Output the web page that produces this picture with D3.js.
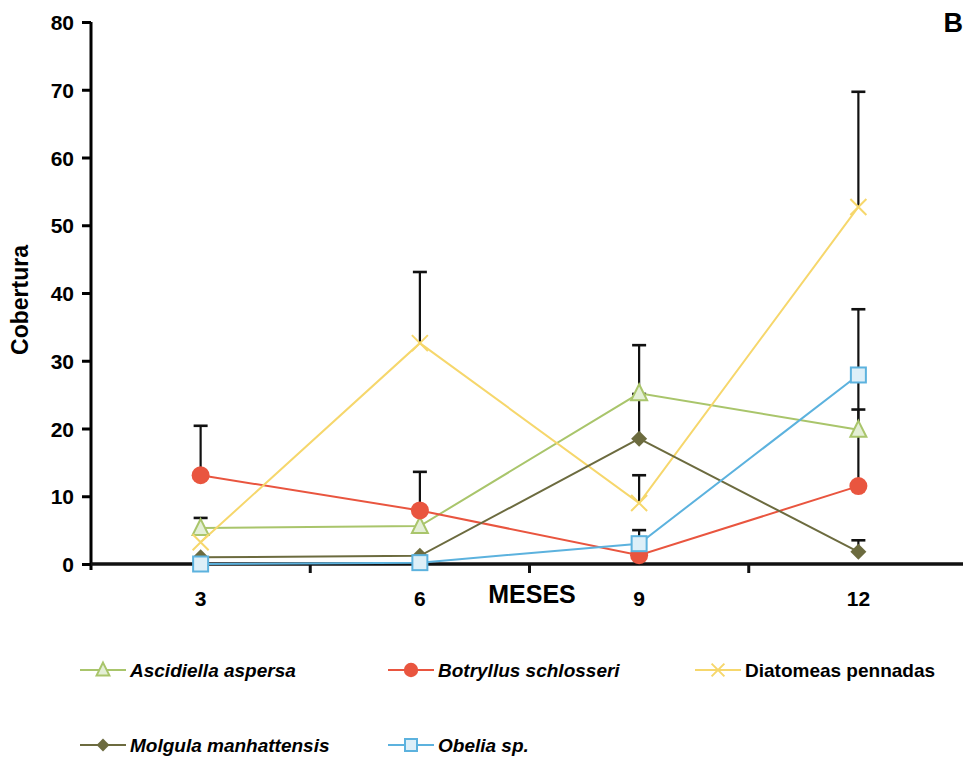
<!DOCTYPE html>
<html>
<head>
<meta charset="utf-8">
<script src="https://cdn.jsdelivr.net/npm/d3@7"></script>
<style>
  body { margin: 0; background: #fff; }
  svg { display: block; font-family: "Liberation Sans", Arial, sans-serif; }
</style>
</head>
<body>
<div id="chart"></div>
<script>
// months (categories)
var meses = ["3", "6", "9", "12"];
var yTicks = [0, 10, 20, 30, 40, 50, 60, 70, 80];

// mean cover per series
var ascidiella = [5.3, 5.6, 25.2, 19.8];
var botryllus = [13.1, 7.9, 1.3, 11.5];
var diatomeas = [3.2, 32.6, 9.0, 52.7];
var molgula = [1.0, 1.2, 18.5, 1.8];
var obelia = [0.0, 0.2, 3.0, 27.9];

// upper error (SD)
var ascidiellaErr = [1.5, 0, 7.1, 7.2];
var botryllusErr = [7.3, 5.7, 0, 11.3];
var diatomeasErr = [0, 10.5, 4.1, 17.0];
var molgulaErr = [0, 0, 6.6, 1.7];
var obeliaErr = [0, 0, 2.0, 9.7];

var series = [
    {name: "Ascidiella aspersa", italic: true, values: ascidiella, err: ascidiellaErr, color: "#a9c56b", fill: "#e4efd6", marker: "triangle"},
    {name: "Botryllus schlosseri", italic: true, values: botryllus, err: botryllusErr, color: "#e9553f", fill: "#e9553f", marker: "circle"},
    {name: "Diatomeas pennadas", italic: false, values: diatomeas, err: diatomeasErr, color: "#f6d76c", fill: "none", marker: "cross"},
    {name: "Molgula manhattensis", italic: true, values: molgula, err: molgulaErr, color: "#6c6b3f", fill: "#6c6b3f", marker: "diamond"},
    {name: "Obelia sp.", italic: true, values: obelia, err: obeliaErr, color: "#5cb2de", fill: "#ddeff8", marker: "square"}
];

var w = 963, h = 757;
var svg = d3.select("#chart").append("svg").attr("width", w).attr("height", h);

var xScale = d3.scaleBand().domain(meses).range([91, 968]).padding(0);
var yScale = d3.scaleLinear().domain([0, 80]).range([564, 22]);
function cx(i) { return xScale(meses[i]) + xScale.bandwidth() / 2; }

//y axis
var yAxis = d3.axisLeft(yScale).tickValues(yTicks).tickSize(9).tickPadding(8).tickFormat(d3.format("d"));
var gy = svg.append("g").attr("transform", "translate(91,0)").call(yAxis);
gy.select(".domain").attr("stroke-width", 3).attr("d", "M0,22V570");
gy.selectAll(".tick line").attr("stroke-width", 3);
gy.selectAll(".tick text").style("font-size", "21px").style("font-weight", "bold").attr("dy", "0.36em");

//x axis: labels at centers, tick marks at band edges
var xAxis = d3.axisBottom(xScale).tickSize(0).tickPadding(27);
var gx = svg.append("g").attr("transform", "translate(0,564)").call(xAxis);
gx.select(".domain").remove();
gx.selectAll(".tick text").style("font-size", "21px").style("font-weight", "bold");
svg.append("line").attr("x1", 91).attr("x2", 963).attr("y1", 564).attr("y2", 564)
    .attr("stroke", "#111").attr("stroke-width", 3.5);
svg.selectAll(".xtick").data(meses.slice(1)).enter().append("line")
    .attr("class", "xtick")
    .attr("x1", function (d) { return xScale(d); })
    .attr("x2", function (d) { return xScale(d); })
    .attr("y1", 564).attr("y2", 573)
    .attr("stroke", "#111").attr("stroke-width", 3);

svg.append("text").attr("x", 532).attr("y", 603).attr("text-anchor", "middle")
    .style("font-size", "25px").style("font-weight", "bold").text("MESES");

svg.append("text").attr("transform", "translate(28,300) rotate(-90)").attr("text-anchor", "middle")
    .style("font-size", "23px").style("font-weight", "bold").text("Cobertura");

svg.append("text").attr("x", 963).attr("y", 32).attr("text-anchor", "end")
    .style("font-size", "27px").style("font-weight", "bold").text("B");

//error bars (behind)
series.forEach(function (s) {
    s.values.forEach(function (v, i) {
        if (!s.err[i]) return;
        var y0 = yScale(v), y1 = yScale(v + s.err[i]), x = cx(i);
        svg.append("line").attr("x1", x).attr("x2", x).attr("y1", y0).attr("y2", y1)
            .attr("stroke", "#111").attr("stroke-width", 2.2);
        svg.append("line").attr("x1", x - 7).attr("x2", x + 7).attr("y1", y1).attr("y2", y1)
            .attr("stroke", "#111").attr("stroke-width", 2.6);
    });
});

var line = d3.line().x(function (d, i) { return cx(i); }).y(function (d) { return yScale(d); });

function drawMarker(g, type, x, y, s, scale) {
    var k = scale || 1;
    if (type === "circle") {
        g.append("circle").attr("cx", x).attr("cy", y).attr("r", 9 * k).attr("fill", s.fill);
    } else if (type === "triangle") {
        var a = 8 * k;
        g.append("path").attr("d", "M" + x + "," + (y - a - 1) + "L" + (x + a) + "," + (y + a - 1) + "L" + (x - a) + "," + (y + a - 1) + "Z")
            .attr("fill", s.fill).attr("stroke", s.color).attr("stroke-width", 2);
    } else if (type === "square") {
        var b = 7.5 * k;
        g.append("rect").attr("x", x - b).attr("y", y - b).attr("width", 2 * b).attr("height", 2 * b)
            .attr("fill", s.fill).attr("stroke", s.color).attr("stroke-width", 2);
    } else if (type === "diamond") {
        var c = 8 * k;
        g.append("path").attr("d", "M" + x + "," + (y - c) + "L" + (x + c) + "," + y + "L" + x + "," + (y + c) + "L" + (x - c) + "," + y + "Z")
            .attr("fill", s.fill);
    } else if (type === "cross") {
        var e = 8 * k;
        g.append("path").attr("d", "M" + (x - e) + "," + (y - e) + "L" + (x + e) + "," + (y + e) + "M" + (x + e) + "," + (y - e) + "L" + (x - e) + "," + (y + e))
            .attr("stroke", s.color).attr("stroke-width", 2).attr("fill", "none");
    }
}

//lines
series.forEach(function (s) {
    svg.append("path").datum(s.values).attr("d", line)
        .attr("fill", "none").attr("stroke", s.color).attr("stroke-width", 2);
});

//markers
series.forEach(function (s) {
    var g = svg.append("g");
    s.values.forEach(function (v, i) { drawMarker(g, s.marker, cx(i), yScale(v), s); });
});

//legend
var legendPos = [[80, 670], [388, 670], [695, 670], [80, 745], [388, 745]];
series.forEach(function (s, i) {
    var p = legendPos[i];
    var g = svg.append("g");
    g.append("line").attr("x1", p[0]).attr("x2", p[0] + 46).attr("y1", p[1]).attr("y2", p[1])
        .attr("stroke", s.color).attr("stroke-width", 2);
    drawMarker(g, s.marker, p[0] + 23, p[1], s, 0.8);
    g.append("text").attr("x", p[0] + 50).attr("y", p[1]).attr("dy", "0.36em")
        .style("font-size", "19px").style("font-weight", "bold")
        .style("font-style", s.italic ? "italic" : "normal")
        .text(s.name);
});
</script>
</body>
</html>
